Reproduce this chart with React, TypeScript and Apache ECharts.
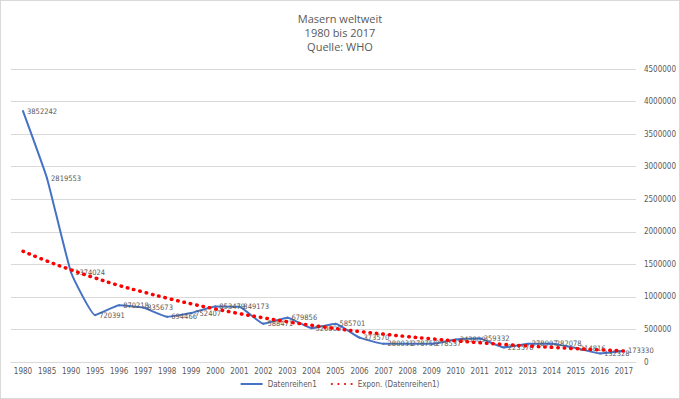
import React, { useEffect, useRef } from "react";
import * as echarts from "echarts";

const years = ["1980","1985","1990","1995","1996","1997","1998","1999","2000","2001","2002","2003","2004","2005","2006","2007","2008","2009","2010","2011","2012","2013","2014","2015","2016","2017"];
const cases = [3852242,2819553,1374024,720391,870218,835673,694466,752407,853479,849173,588471,679856,520000,585701,373570,280031,278756,278537,343809,359332,223576,278907,282078,214816,132328,173330];
const trend = [1700000,1550000,1415000,1290000,1175000,1075000,980000,893000,815000,743000,678000,618000,564000,514000,469000,428000,390000,356000,325000,296000,270000,246000,225000,205000,187000,170000];
const titleLines = ["Masern weltweit", "1980 bis 2017", "Quelle: WHO"];

const FONT = "'Open Sans', 'Liberation Sans', sans-serif";
const NARROW = "'Liberation Sans Narrow', 'DejaVu Sans Condensed', 'Open Sans', sans-serif";
const GREY = "#595959";

const dotsIcon =
  "path://M1,2 a1,1 0 1,0 2,0 a1,1 0 1,0 -2,0 Z M7,2 a1,1 0 1,0 2,0 a1,1 0 1,0 -2,0 Z M13,2 a1,1 0 1,0 2,0 a1,1 0 1,0 -2,0 Z M19,2 a1,1 0 1,0 2,0 a1,1 0 1,0 -2,0 Z";

export default function App() {
  const ref = useRef<HTMLDivElement>(null);
  useEffect(() => {
    if (!ref.current) return;
    const chart = echarts.init(ref.current, undefined, { renderer: "svg" });
    chart.setOption({
      animation: false,
      backgroundColor: "#ffffff",
      textStyle: { fontFamily: FONT },
      title: {
        text: titleLines.join("\n"),
        left: "center",
        top: 5,
        textStyle: { fontSize: 11, fontWeight: "normal", color: GREY, lineHeight: 14, fontFamily: FONT },
      },
      legend: {
        bottom: 5,
        left: "center",
        itemWidth: 22,
        itemHeight: 4,
        itemGap: 14,
        textStyle: { fontSize: 8, color: GREY, fontFamily: NARROW },
        data: [
          { name: "Datenreihen1", icon: "path://M0,0 L22,0 L22,2 L0,2 Z" },
          { name: "Expon. (Datenreihen1)", icon: dotsIcon },
        ],
      },
      grid: { left: 10, right: 36, top: 68, bottom: 36, containLabel: false },
      xAxis: {
        type: "category",
        data: years,
        boundaryGap: true,
        axisLine: { lineStyle: { color: "#d9d9d9", width: 1 } },
        axisTick: { show: false },
        axisLabel: { fontSize: 8, color: GREY, margin: 5, interval: 0, fontFamily: NARROW },
      },
      yAxis: {
        type: "value",
        position: "right",
        min: 0,
        max: 4500000,
        interval: 500000,
        axisLine: { show: false },
        axisTick: { show: false },
        axisLabel: { fontSize: 8, color: GREY, margin: 8, fontFamily: NARROW, formatter: (v: number) => String(v) },
        splitLine: { lineStyle: { color: "#d9d9d9", width: 1 } },
      },
      series: [
        {
          name: "Datenreihen1",
          type: "line",
          data: cases,
          smooth: 0.12,
          symbol: "circle",
          symbolSize: 2,
          showSymbol: true,
          lineStyle: { color: "#4472C4", width: 2 },
          itemStyle: { color: "#4472C4" },
          label: {
            show: true,
            position: "right",
            distance: 3,
            fontSize: 7.5,
            color: GREY,
            fontFamily: NARROW,
          },
          labelLayout: { hideOverlap: false },
          z: 3,
        },
        {
          name: "Expon. (Datenreihen1)",
          type: "line",
          data: trend,
          smooth: true,
          symbol: "none",
          lineStyle: { color: "#ff0000", width: 3.5, type: [0.5, 6], cap: "round" },
          itemStyle: { color: "#ff0000" },
          z: 4,
        },
      ],
    });
    return () => chart.dispose();
  }, []);
  return (
    <div
      style={{
        position: "fixed",
        left: 0,
        top: 0,
        width: 680,
        height: 399,
        boxSizing: "border-box",
        border: "1px solid #d9d9d9",
        background: "#fff",
      }}
    >
      <div ref={ref} style={{ width: 678, height: 397 }} />
    </div>
  );
}
